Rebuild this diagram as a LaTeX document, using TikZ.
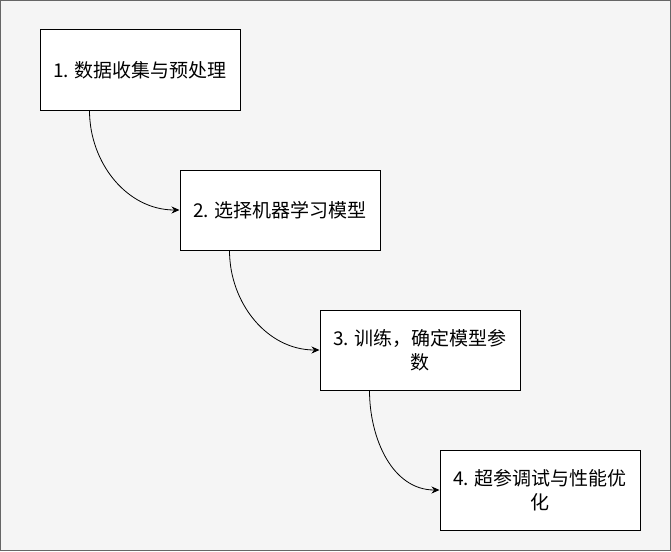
\documentclass[tikz,border=0pt]{standalone}
\usepackage{fontspec}
\setmainfont{Noto Sans CJK SC}
\usetikzlibrary{arrows.meta}
\definecolor{bgcol}{HTML}{F5F5F5}
\definecolor{framecol}{HTML}{666666}

\begin{document}
\begin{tikzpicture}[x=1pt, y=-1pt, >={Stealth[length=8pt, width=7pt]},
  stage/.style={draw, fill=white, line width=1pt, minimum width=200pt, minimum height=80pt,
    inner sep=0pt, align=center, font=\fontsize{19}{24}\selectfont}]
  \useasboundingbox (0,0) rectangle (671,551);
  \draw[fill=bgcol, draw=framecol, line width=1pt] (0.5,0.5) rectangle (670.5,550.5);
  \node[stage] (s1) at (140,70) {1. 数据收集与预处理};
  \node[stage] (s2) at (280,210) {2. 选择机器学习模型};
  \node[stage] (s3) at (420,350) {3. 训练，确定模型参\\数};
  \node[stage] (s4) at (540,490) {4. 超参调试与性能优\\化};
  \draw[->, line width=0.8pt] ([xshift=50pt]s1.south west) to[out=-90, in=180] (s2.west);
  \draw[->, line width=0.8pt] ([xshift=50pt]s2.south west) to[out=-90, in=180] (s3.west);
  \draw[->, line width=0.8pt] ([xshift=50pt]s3.south west) to[out=-90, in=180] (s4.west);
\end{tikzpicture}
\end{document}
